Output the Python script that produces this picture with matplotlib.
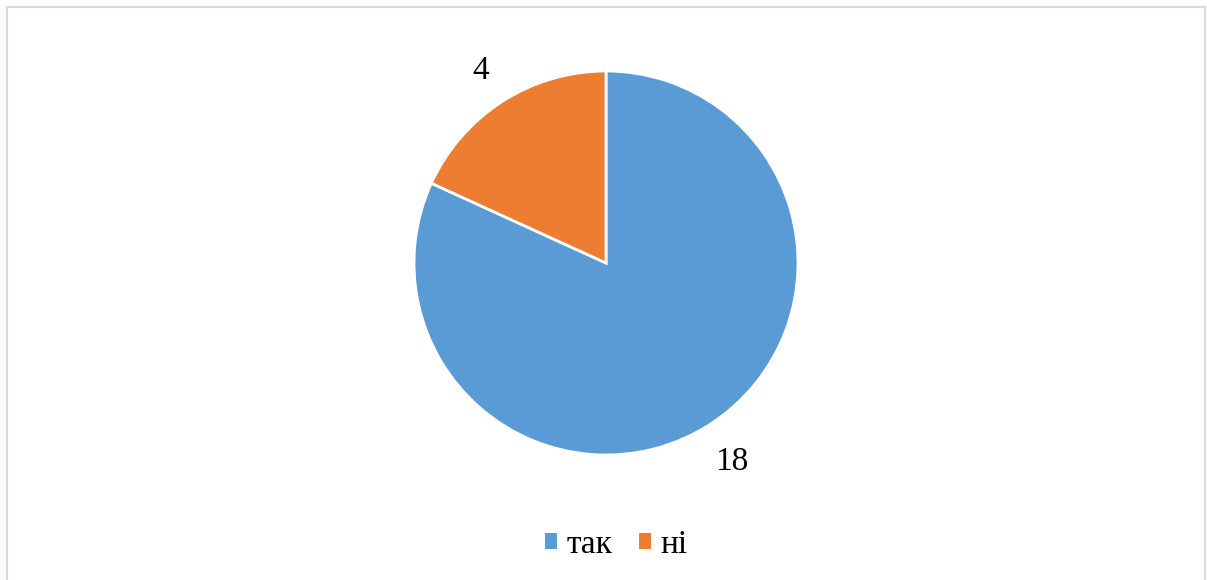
import matplotlib
matplotlib.use('Agg')
from matplotlib import pyplot as plt
from matplotlib.lines import Line2D
from matplotlib.patches import Patch

labels = ['так', 'ні']
values = [18, 4]
colors = ['#5B9BD5', '#ED7D31']

plt.rcParams['font.family'] = ['Liberation Serif', 'DejaVu Serif']

fig = plt.figure(figsize=(12.07, 5.8), dpi=100)
ax = fig.add_axes([414 / 1207, 125 / 580, 384 / 1207, 384 / 580])

wedges, texts = ax.pie(values, colors=colors, startangle=90, counterclock=False,
                       labels=[str(v) for v in values], labeldistance=1.21,
                       wedgeprops=dict(edgecolor='white', linewidth=2),
                       textprops=dict(fontsize=24, color='black'))
for t in texts:
    t.set_ha('center')
    t.set_va('center_baseline')
ax.set_xlim(-1, 1)
ax.set_ylim(-1, 1)
ax.set_aspect('equal')

# light frame around the chart area (no bottom edge visible)
frame = dict(color='#D9D9D9', linewidth=1.5, transform=fig.transFigure)
fig.add_artist(Line2D([7 / 1207, 7 / 1207], [0, 1 - 7 / 580], **frame))
fig.add_artist(Line2D([7 / 1207, 1205 / 1207], [1 - 7 / 580, 1 - 7 / 580], **frame))
fig.add_artist(Line2D([1205 / 1207, 1205 / 1207], [0, 1 - 7 / 580], **frame))

handles = [Patch(facecolor=c, edgecolor='none') for c in colors]
fig.legend(handles, labels, loc='center', bbox_to_anchor=(616 / 1207, 1 - 545 / 580),
           ncol=2, frameon=False, fontsize=24, handlelength=0.37, handleheight=0.37,
           handletextpad=0.28, columnspacing=0.8)

fig.savefig('out.png', dpi=100)
